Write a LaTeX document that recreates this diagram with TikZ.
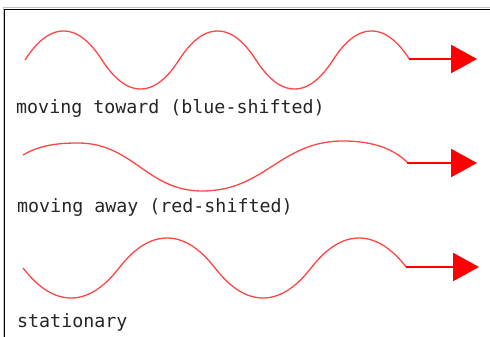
\documentclass[tikz,border=0pt]{standalone}
\usepackage{fontspec}
\newfontfamily\labelfont{DejaVu Sans Mono}
\usetikzlibrary{arrows.meta}
\definecolor{wavered}{RGB}{255,70,70}
\definecolor{arrowred}{RGB}{255,0,0}
\tikzset{
  wave/.style={draw=wavered, line width=1.3pt, line join=round},
  ray/.style={draw=arrowred, line width=2.5pt, -{Triangle[length=26pt,width=28pt]}},
  lbl/.style={anchor=base west, inner sep=0pt, text=black!85, font=\labelfont\fontsize{18.3}{20}\selectfont},
  frameline/.style={draw=black, line width=1pt},
  frameshade/.style={draw=black!25, line width=1pt}
}
% widened-crest sine: s*(1+k)/(1+k|s|)
\pgfmathdeclarefunction{wsin}{1}{%
  \pgfmathparse{sin(#1)*1.3/(1+0.3*abs(sin(#1)))}%
}
\begin{document}
\begin{tikzpicture}[x=1pt,y=-1pt]
\useasboundingbox (0,0) rectangle (490,337);
\fill[white] (0,0) rectangle (490,337);
% frame
\draw[frameshade] (3,337) -- (3,8) -- (490,8);
\draw[frameline] (4.5,337) -- (4.5,9.5) -- (490,9.5);

% wave 1: moving toward
\draw[wave] plot[domain=25:410, samples=240, smooth] (\x, {60 - 29*wsin((\x-25)/154*360)});
\coordinate (w1e) at (409,59);
\coordinate (a1) at (477,59);
\draw[ray] (w1e) -- (a1);
\node[lbl] (l1) at (16,113) {moving toward (blue-shifted)};

% wave 2: moving away
\draw[wave] (23,155) .. controls (40,145) and (58,143) .. (78,143)
  .. controls (133,143) and (147,191) .. (202,191)
  .. controls (265,191) and (280,141) .. (343,141)
  .. controls (375,141) and (395,150) .. (408,163);
\coordinate (w2e) at (407,163);
\coordinate (a2) at (477,163);
\draw[ray] (w2e) -- (a2);
\node[lbl] (l2) at (17,212) {moving away (red-shifted)};

% wave 3: stationary
\draw[wave] plot[domain=23:407, samples=240, smooth] (\x, {268 + 30*wsin((\x-23)/192*360)});
\coordinate (w3e) at (406,267);
\coordinate (a3) at (479,267);
\draw[ray] (w3e) -- (a3);
\node[lbl] (l3) at (17,327) {stationary};
\end{tikzpicture}
\end{document}
